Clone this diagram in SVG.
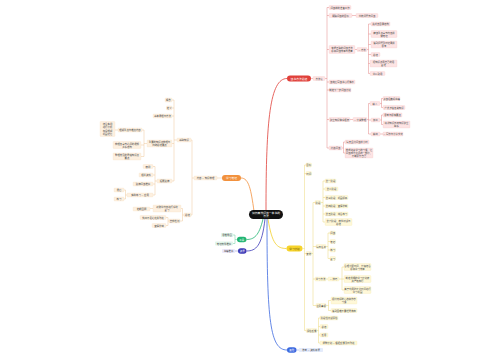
<svg xmlns="http://www.w3.org/2000/svg" width="500" height="360" viewBox="0 0 500 360">
<style>
.t{font-family:"Noto Sans CJK SC","Noto Sans",sans-serif;font-size:2.4px;fill:#444;text-anchor:middle;dominant-baseline:central}
.m{font-size:2.8px;fill:#fff}
.rb{fill:#fde4e4;stroke:#f4baba;stroke-width:.2}
.ob{fill:#fdf0e0;stroke:#f6d4ae;stroke-width:.2}
.yb{fill:#fff8d8;stroke:#f2e39a;stroke-width:.2}
.gb{fill:#e1f5ea}
.pb{fill:#ebe8fb}
.bb{fill:#e4ebfb}
.l{fill:none;stroke-width:.45}
.lr{stroke:#e07878}.lo{stroke:#eec28f}.ly{stroke:#ead56b}.lg{stroke:#5cc995}.lp{stroke:#7775cc}.lb{stroke:#6f8fe6}
.c{fill:none;stroke-width:.8}
</style>
<rect width="500" height="360" fill="#fff"/>
<g id="connectors">
<path class="c" stroke="#e0403a" d="M266,210 C266,120 270,78.5 287,78.5"/>
<path class="c" stroke="#f2913d" d="M254,211 C251,190 249,178 241,178"/>
<path class="c" stroke="#f3cf2a" d="M268,219 C272,244 277,248.5 286.5,248.5"/>
<path class="c" stroke="#22b573" d="M263,219 C259,236 254,239.5 246.5,239.5"/>
<path class="c" stroke="#3c3ab8" d="M265,219 C262,246 256,251 246.5,251"/>
<path class="c" stroke="#3d6ae0" d="M267,219 C267,320 270,350 287,350"/>
<path class="l lr" d="M311,78.5H313M325,78.5H327M327,7.5V148M327,7.5H329M327,15.5H329M327,49.5H329M327,82H329M327,90H329M327,119.5H329M327,148H329M352,15.5H356M355,49.5H357M367,49.5H368.5M368.5,24V73.5M368.5,24H371M368.5,34H371M368.5,44.5H371M368.5,54.5H371M368.5,63.5H370M368.5,73.5H370M350,119.5H353M367,119.5H368.5M368.5,103.5V134M368.5,103.5H370M368.5,120H371M368.5,134H371M380,103.5H381.5M381.5,98.5V107.5M381.5,98.5H383M381.5,107.5H383M380,120H381.5M381.5,115V124.5M381.5,115H383M381.5,124.5H383M380,134H383M342,148H343.5M343.5,142V153M343.5,142H345M343.5,153H345"/>
<path class="l lo" d="M222,178H217M194,178H192M192,140V215M192,140H191M192,215H191M177,140H174M174,100V181M174,100H172M174,108H172M174,116H172M174,143.5H172M174,181H172M147,143.5H144M144,130V156.5M144,130H142M144,145H141M144,156.5H141M118,130H115M157,181H155M155,166.5V195M155,166.5H153M155,175H153M155,184H153M155,195H153M127,195H125.5M125.5,190V199M125.5,190H124M125.5,199H124M184,215H182.5M182.5,208.5V221M182.5,208.5H181M182.5,221H180M153,208.5H150M169,221H168M168,217.5V225.5M168,217.5H166M168,225.5H166"/>
<path class="l ly" d="M302.5,248.5H304.5M304.5,165V330.5M304.5,165H306M304.5,173.5H306M304.5,253.5H306M304.5,330.5H306M311,253.5H313M313,202.5V305.5M313,202.5H315M313,246.5H316M313,279H315M313,305.5H316M321,202.5H323M323,181V222M323,181H325M323,189H325M323,197.5H325M323,206H325M323,214H325M323,222H325M326,246.5H328M328,233V258.5M328,233H330M328,241.5H330M328,250H330M328,258.5H330M326,279H328M339,279H342M342,267V290M342,267H344M342,279H344M342,290H344M326,305.5H328.5M328.5,300.5V310.5M328.5,300.5H331M328.5,310.5H331M317,330.5H318.5M318.5,318V343M318.5,318H320M318.5,326.5H320M318.5,335H320M318.5,343H320"/>
<path class="l lg" d="M237,239.5H235M235,235V243.5M235,235H233M235,243.5H233"/>
<path class="l lp" d="M238,251H235"/>
<path class="l lb" d="M296.5,350H299"/>
</g>
<g id="center"><rect x="249" y="210" width="34" height="9" rx="4.5" fill="#111"/><text class="t m" x="266" y="212.8">如何高效阅读一本书的</text><text class="t m" x="266" y="216.3">方法</text></g>
<g id="red">
<g id="r0"><rect x="287" y="75.5" width="24" height="6" rx="3" fill="#e0403a"/><text class="t m" x="299" y="78.5">读书方法总结</text></g>
<g id="r1"><rect class="rb" x="313" y="76.5" width="12" height="4" rx=".8"/><text class="t" x="319" y="78.5">方法论</text></g>
<g id="ra"><rect class="rb" x="329" y="5.5" width="22" height="4" rx=".8"/><text class="t" x="340" y="7.5">阅读前的准备工作</text></g>
<g id="rb"><rect class="rb" x="329" y="13.5" width="23" height="4" rx=".8"/><text class="t" x="340.5" y="15.5">明确阅读的目标</text></g>
<g id="rb2"><rect class="rb" x="356" y="13.5" width="22" height="4" rx=".8"/><text class="t" x="367" y="15.5">带着问题去阅读</text></g>
<g id="rc"><rect class="rb" x="329" y="45.5" width="26" height="8" rx=".8"/><text class="t" x="342" y="48">掌握正确的阅读方法</text><text class="t" x="342" y="51">提高阅读效率与质量</text></g>
<g id="rc1"><rect class="rb" x="357" y="47.5" width="10" height="4" rx=".8"/><text class="t" x="362" y="49.5">— 方法</text></g>
<g id="rc1a"><rect class="rb" x="371" y="22" width="19" height="4" rx=".8"/><text class="t" x="380.5" y="24">先浏览目录结构</text></g>
<g id="rc1b"><rect class="rb" x="371" y="30.5" width="26" height="7" rx=".8"/><text class="t" x="384" y="32.5">精读重点章节内容并</text><text class="t" x="384" y="35.5">做笔记</text></g>
<g id="rc1c"><rect class="rb" x="371" y="41" width="26" height="7" rx=".8"/><text class="t" x="384" y="43">遇到问题及时记录并</text><text class="t" x="384" y="46">思考</text></g>
<g id="rc1d"><rect class="rb" x="371" y="52.5" width="9" height="4" rx=".8"/><text class="t" x="375.5" y="54.5">总结</text></g>
<g id="rc1e"><rect class="rb" x="370" y="60" width="27" height="7" rx=".8"/><text class="t" x="383.5" y="62">把知识点用自己的话</text><text class="t" x="383.5" y="65">复述</text></g>
<g id="rc1f"><rect class="rb" x="370" y="71.5" width="15" height="4" rx=".8"/><text class="t" x="377.5" y="73.5">学以致用</text></g>
<g id="rd"><rect class="rb" x="329" y="80" width="26" height="4" rx=".8"/><text class="t" x="342" y="82">读完后写读书心得体会</text></g>
<g id="re"><rect class="rb" x="329" y="88" width="22" height="4" rx=".8"/><text class="t" x="340" y="90">制定下一步阅读计划</text></g>
<g id="rf"><rect class="rb" x="329" y="117.5" width="21" height="4" rx=".8"/><text class="t" x="339.5" y="119.5">建立知识体系框架</text></g>
<g id="rf1"><rect class="rb" x="353" y="117.5" width="14" height="4" rx=".8"/><text class="t" x="360" y="119.5">— 分类整理</text></g>
<g id="rf1a"><rect class="rb" x="370" y="101.5" width="10" height="4" rx=".8"/><text class="t" x="375" y="103.5">输入</text></g>
<g id="rf1a1"><rect class="rb" x="383" y="96.5" width="17" height="4" rx=".8"/><text class="t" x="391.5" y="98.5">多读经典好书籍</text></g>
<g id="rf1a2"><rect class="rb" x="383" y="105.5" width="22" height="4" rx=".8"/><text class="t" x="394" y="107.5">广泛涉猎各类知识</text></g>
<g id="rf1b"><rect class="rb" x="371" y="118" width="9" height="4" rx=".8"/><text class="t" x="375.5" y="120">加工</text></g>
<g id="rf1b1"><rect class="rb" x="383" y="113" width="19" height="4" rx=".8"/><text class="t" x="392.5" y="115">思考与提炼要点</text></g>
<g id="rf1b2"><rect class="rb" x="383" y="121" width="27" height="7" rx=".8"/><text class="t" x="396.5" y="123">将新知识与旧知识建立</text><text class="t" x="396.5" y="126">联系</text></g>
<g id="rf1c"><rect class="rb" x="371" y="132" width="9" height="4" rx=".8"/><text class="t" x="375.5" y="134">输出</text></g>
<g id="rf1c1"><rect class="rb" x="383" y="132" width="20" height="4" rx=".8"/><text class="t" x="393" y="134">— 写作与分享交流</text></g>
<g id="rg"><rect class="rb" x="329" y="146" width="13" height="4" rx=".8"/><text class="t" x="335.5" y="148">持续阅读</text></g>
<g id="rg1"><rect class="rb" x="345" y="140" width="24" height="4" rx=".8"/><text class="t" x="357" y="142">每天坚持阅读半小时</text></g>
<g id="rg2"><rect class="rb" x="345" y="148" width="28" height="10" rx=".8"/><text class="t" x="359" y="150">养成终身学习的习惯，让</text><text class="t" x="359" y="153">阅读成为生活的一部分，</text><text class="t" x="359" y="156">不断提升自己</text></g>
</g>
<g id="orange">
<g id="o0"><rect x="222" y="175" width="19" height="6" rx="3" fill="#f2913d"/><text class="t m" x="231.5" y="178">学习笔记</text></g>
<g id="o1"><rect class="ob" x="194" y="176" width="23" height="4" rx=".8"/><text class="t" x="205.5" y="178">内容 — 知识梳理</text></g>
<g id="o2"><rect class="ob" x="177" y="138" width="14" height="4" rx=".8"/><text class="t" x="184" y="140">基础知识</text></g>
<g id="o2a"><rect class="ob" x="165" y="98" width="7" height="4" rx=".8"/><text class="t" x="168.5" y="100">概念</text></g>
<g id="o2b"><rect class="ob" x="166.5" y="106" width="5.5" height="4" rx=".8"/><text class="t" x="169.25" y="108">定义</text></g>
<g id="o2c"><rect class="ob" x="153" y="114" width="19" height="4" rx=".8"/><text class="t" x="162.5" y="116">基本原理与方法</text></g>
<g id="o2d"><rect class="ob" x="147" y="140" width="25" height="7" rx=".8"/><text class="t" x="159.5" y="142">重要的知识点梳理与</text><text class="t" x="159.5" y="145">归纳总结要点</text></g>
<g id="o2d1"><rect class="ob" x="118" y="128" width="24" height="4" rx=".8"/><text class="t" x="130" y="130">理解重点与难点内容</text></g>
<g id="o2d1a"><rect class="ob" x="100" y="121.5" width="15" height="15" rx=".8"/><text class="t" x="107.5" y="123.8">结合实例</text><text class="t" x="107.5" y="127.3">进行分析</text><text class="t" x="107.5" y="130.8">加深理解</text><text class="t" x="107.5" y="134.3">巩固记忆</text></g>
<g id="o2d2"><rect class="ob" x="113" y="141.5" width="28" height="7" rx=".8"/><text class="t" x="127" y="143.5">梳理各章节之间的逻辑</text><text class="t" x="127" y="146.5">关系结构</text></g>
<g id="o2d3"><rect class="ob" x="113" y="153" width="28" height="7" rx=".8"/><text class="t" x="127" y="155">整理常见的易错知识点</text><text class="t" x="127" y="158">要点</text></g>
<g id="o2e"><rect class="ob" x="157" y="179" width="15" height="4" rx=".8"/><text class="t" x="164.5" y="181">拓展延伸</text></g>
<g id="o2e1"><rect class="ob" x="143" y="164.5" width="10" height="4" rx=".8"/><text class="t" x="148" y="166.5">案例</text></g>
<g id="o2e2"><rect class="ob" x="139" y="173" width="14" height="4" rx=".8"/><text class="t" x="146" y="175">相关资料</text></g>
<g id="o2e3"><rect class="ob" x="133" y="182" width="20" height="4" rx=".8"/><text class="t" x="143" y="184">延伸阅读推荐</text></g>
<g id="o2e4"><rect class="ob" x="127" y="193" width="26" height="4" rx=".8"/><text class="t" x="140" y="195">实践练习 — 应用</text></g>
<g id="o2e4a"><rect class="ob" x="114" y="188" width="10" height="4" rx=".8"/><text class="t" x="119" y="190">课后</text></g>
<g id="o2e4b"><rect class="ob" x="114" y="197" width="10" height="4" rx=".8"/><text class="t" x="119" y="199">练习</text></g>
<g id="o3"><rect class="ob" x="184" y="213" width="7" height="4" rx=".8"/><text class="t" x="187.5" y="215">总结</text></g>
<g id="o3a"><rect class="ob" x="153" y="205" width="28" height="7" rx=".8"/><text class="t" x="167" y="207">对所学内容进行系统</text><text class="t" x="167" y="210">复习</text></g>
<g id="o3a1"><rect class="ob" x="133" y="207" width="17" height="4" rx=".8"/><text class="t" x="141.5" y="209">定期回顾</text></g>
<g id="o3b"><rect class="ob" x="169" y="219" width="11" height="4" rx=".8"/><text class="t" x="174.5" y="221">自我检测</text></g>
<g id="o3b1"><rect class="ob" x="140" y="215.5" width="26" height="4" rx=".8"/><text class="t" x="153" y="217.5">找出不足之处并改进</text></g>
<g id="o3b2"><rect class="ob" x="152" y="223.5" width="14" height="4" rx=".8"/><text class="t" x="159" y="225.5">查漏补缺</text></g>
</g>
<g id="yellow">
<g id="y0"><rect x="286.5" y="245.5" width="16" height="6" rx="3" fill="#f6d32b"/><text class="t" x="294.5" y="248.5" style="font-size:2.6px;fill:#5a4a00">学习计划</text></g>
<g id="ya"><rect class="yb" x="306" y="163" width="5.5" height="4" rx=".8"/><text class="t" x="308.75" y="165">目标</text></g>
<g id="yb"><rect class="yb" x="306" y="171.5" width="5.5" height="4" rx=".8"/><text class="t" x="308.75" y="173.5">时间</text></g>
<g id="yc"><rect class="yb" x="306" y="251.5" width="5.5" height="4" rx=".8"/><text class="t" x="308.75" y="253.5">安排</text></g>
<g id="yc1"><rect class="yb" x="315" y="200.5" width="6" height="4" rx=".8"/><text class="t" x="318" y="202.5">阶段</text></g>
<g id="yc1a"><rect class="yb" x="325" y="179" width="11" height="4" rx=".8"/><text class="t" x="330.5" y="181">第一阶段</text></g>
<g id="yc1b"><rect class="yb" x="325" y="187" width="13" height="4" rx=".8"/><text class="t" x="331.5" y="189">第二阶段</text></g>
<g id="yc1c"><rect class="yb" x="325" y="195.5" width="23" height="4" rx=".8"/><text class="t" x="336.5" y="197.5">第三阶段：巩固提高</text></g>
<g id="yc1d"><rect class="yb" x="325" y="204" width="23" height="4" rx=".8"/><text class="t" x="336.5" y="206">第四阶段：查漏补缺</text></g>
<g id="yc1e"><rect class="yb" x="325" y="212" width="23" height="4" rx=".8"/><text class="t" x="336.5" y="214">第五阶段：综合练习</text></g>
<g id="yc1f"><rect class="yb" x="325" y="218.5" width="27" height="7" rx=".8"/><text class="t" x="338.5" y="220.5">第六阶段：模拟测试与</text><text class="t" x="338.5" y="223.5">总结</text></g>
<g id="yc2"><rect class="yb" x="316" y="244.5" width="10" height="4" rx=".8"/><text class="t" x="321" y="246.5">每日任务</text></g>
<g id="yc2a"><rect class="yb" x="330" y="231" width="5.5" height="4" rx=".8"/><text class="t" x="332.75" y="233">阅读</text></g>
<g id="yc2b"><rect class="yb" x="330" y="239.5" width="5.5" height="4" rx=".8"/><text class="t" x="332.75" y="241.5">笔记</text></g>
<g id="yc2c"><rect class="yb" x="330" y="248" width="5.5" height="4" rx=".8"/><text class="t" x="332.75" y="250">练习</text></g>
<g id="yc2d"><rect class="yb" x="330" y="256.5" width="5.5" height="4" rx=".8"/><text class="t" x="332.75" y="258.5">复习</text></g>
<g id="yc3"><rect class="yb" x="315" y="277" width="11" height="4" rx=".8"/><text class="t" x="320.5" y="279">学习方法</text></g>
<g id="yc3x"><rect class="yb" x="328" y="277" width="11" height="4" rx=".8"/><text class="t" x="333.5" y="279">— 技巧</text></g>
<g id="yc3a"><rect class="yb" x="344" y="263.5" width="27" height="7" rx=".8"/><text class="t" x="357.5" y="265.5">合理分配时间，劳逸结合</text><text class="t" x="357.5" y="268.5">提高学习效率</text></g>
<g id="yc3b"><rect class="yb" x="344" y="275.5" width="27" height="7" rx=".8"/><text class="t" x="357.5" y="277.5">制定详细的学习计划表</text><text class="t" x="357.5" y="280.5">并严格执行</text></g>
<g id="yc3c"><rect class="yb" x="344" y="286.5" width="27" height="7" rx=".8"/><text class="t" x="357.5" y="288.5">善于利用碎片化时间进行</text><text class="t" x="357.5" y="291.5">学习巩固</text></g>
<g id="yc4"><rect class="yb" x="316" y="303.5" width="10" height="4" rx=".8"/><text class="t" x="321" y="305.5">注意事项</text></g>
<g id="yc4a"><rect class="yb" x="331" y="297" width="26" height="7" rx=".8"/><text class="t" x="344" y="299">保持良好的心态和作息</text><text class="t" x="344" y="302">习惯</text></g>
<g id="yc4b"><rect class="yb" x="331" y="308.5" width="26" height="4" rx=".8"/><text class="t" x="344" y="310.5">遇到困难不要轻易放弃</text></g>
<g id="yd"><rect class="yb" x="306" y="328.5" width="11" height="4" rx=".8"/><text class="t" x="311.5" y="330.5">评估反馈</text></g>
<g id="yd1"><rect class="yb" x="320" y="316" width="18" height="4" rx=".8"/><text class="t" x="329" y="318">阶段性测试评估</text></g>
<g id="yd2"><rect class="yb" x="320" y="324.5" width="8" height="4" rx=".8"/><text class="t" x="324" y="326.5">总结</text></g>
<g id="yd3"><rect class="yb" x="320" y="333" width="8" height="4" rx=".8"/><text class="t" x="324" y="335">反思</text></g>
<g id="yd4"><rect class="yb" x="320" y="341" width="37" height="4" rx=".8"/><text class="t" x="338.5" y="343">调整计划 — 根据反馈及时改进</text></g>
</g>
<g id="green">
<g id="g0"><rect x="237" y="236.75" width="9.5" height="5.5" rx="2.75" fill="#22b573"/><text class="t m" x="241.75" y="239.5" style="font-size:2.4px">工具</text></g>
<g id="g1"><rect class="gb" x="221" y="233" width="12" height="4" rx=".8"/><text class="t" x="227" y="235">思维导图</text></g>
<g id="g2"><rect class="gb" x="215" y="241.5" width="18" height="4" rx=".8"/><text class="t" x="224" y="243.5">笔记软件推荐</text></g>
</g>
<g id="indigo">
<g id="p0"><rect x="238" y="248.25" width="8.5" height="5.5" rx="2.75" fill="#3c3ab8"/><text class="t m" x="242.25" y="251" style="font-size:2.4px">资源</text></g>
<g id="p1"><rect class="pb" x="222" y="249" width="13" height="4" rx=".8"/><text class="t" x="228.5" y="251">书籍推荐</text></g>
</g>
<g id="blue">
<g id="b0"><rect x="287" y="347.25" width="9.5" height="5.5" rx="2.75" fill="#3d6ae0"/><text class="t m" x="291.75" y="350" style="font-size:2.4px">其他</text></g>
<g id="b1"><rect class="bb" x="299" y="348" width="24" height="4" rx=".8"/><text class="t" x="311" y="350">参考 — 资料来源</text></g>
</g>
</svg>
